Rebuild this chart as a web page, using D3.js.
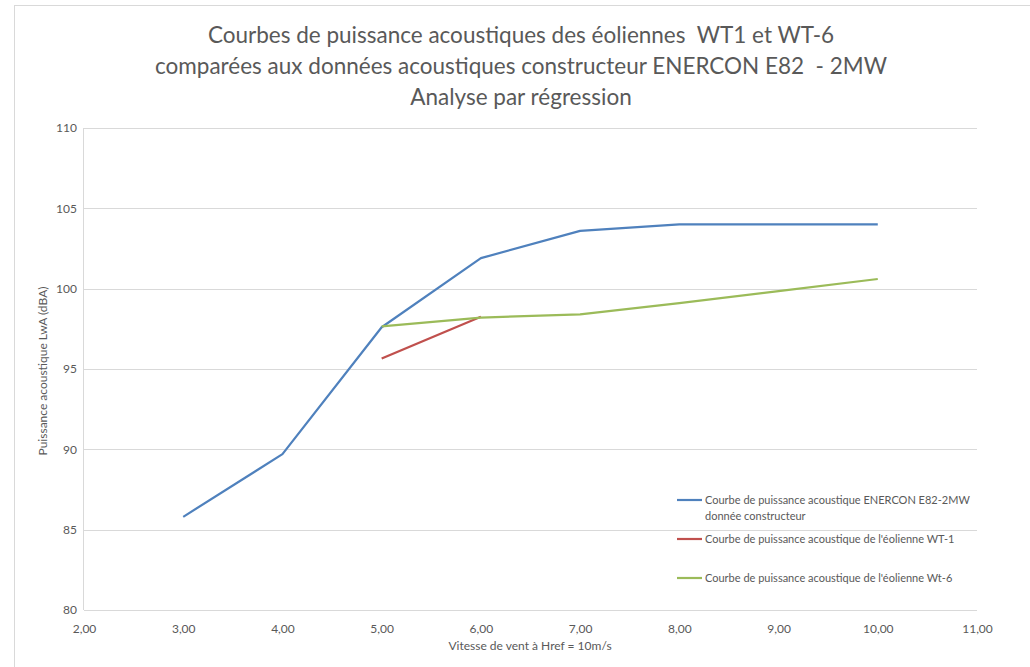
<!DOCTYPE html>
<html><head><meta charset="utf-8">
<script src="https://cdn.jsdelivr.net/npm/d3@7"></script>
<style>body{margin:0;background:#fff}svg{display:block}text{white-space:pre}</style>
</head><body>
<svg id="c" width="1030" height="667"></svg>
<script>
const titleLines = ["Courbes de puissance acoustiques des éoliennes  WT1 et WT-6",
  "comparées aux données acoustiques constructeur ENERCON E82  - 2MW",
  "Analyse par régression"];
const xTicks = [2,3,4,5,6,7,8,9,10,11];
const yTicks = [80,85,90,95,100,105,110];
const enerconX = [3,4,5,6,7,8,9,10];
const enerconY = [85.8,89.7,97.6,101.9,103.6,104.0,104.0,104.0];
const wt1X = [5,6];
const wt1Y = [95.65,98.25];
const wt6X = [5,6,7,8,9,10];
const wt6Y = [97.65,98.2,98.4,99.1,99.85,100.6];
const seriesNames = ["Courbe de puissance acoustique ENERCON E82-2MW|donnée constructeur",
  "Courbe de puissance acoustique de l'éolienne WT-1",
  "Courbe de puissance acoustique de l'éolienne Wt-6"];
const colors = ["#4F81BD","#C0504D","#9BBB59"];

const svg = d3.select("#c");
const font = "Lato, 'Open Sans', sans-serif";
svg.append("rect").attr("x",14.5).attr("y",5.5).attr("width",1030).attr("height",700)
  .attr("fill","#fff").attr("stroke","#d9d9d9");

const x = d3.scaleLinear().domain([2,11]).range([84,977]);
const y = d3.scaleLinear().domain([80,110]).range([610,128]);

// gridlines
svg.append("g").selectAll("line").data(yTicks).join("line")
  .attr("x1",x(2)).attr("x2",x(11)).attr("y1",d=>Math.round(y(d))+0.5).attr("y2",d=>Math.round(y(d))+0.5)
  .attr("stroke","#d9d9d9").attr("stroke-width",1);
svg.append("line").attr("x1",x(2)-0.5).attr("x2",x(2)-0.5).attr("y1",y(110)).attr("y2",y(80))
  .attr("stroke","#d9d9d9");

const xAxis = d3.axisBottom(x).tickValues(xTicks).tickSize(0).tickPadding(14)
  .tickFormat(d=>d3.format(".2f")(d).replace(".",","));
const gx = svg.append("g").attr("transform",`translate(0,${y(80)})`).call(xAxis);
gx.select(".domain").remove();
gx.selectAll("text").attr("fill","#595959").attr("font-size",12).attr("font-family",font);

const yAxis = d3.axisLeft(y).tickValues(yTicks).tickSize(0).tickPadding(7);
const gy = svg.append("g").attr("transform",`translate(${x(2)},0)`).call(yAxis);
gy.select(".domain").remove();
gy.selectAll("text").attr("fill","#595959").attr("font-size",12).attr("font-family",font);

const line = d3.line().x(d=>x(d[0])).y(d=>y(d[1]));
const series = [d3.zip(enerconX,enerconY), d3.zip(wt1X,wt1Y), d3.zip(wt6X,wt6Y)];
series.forEach((s,i)=>{
  svg.append("path").datum(s).attr("d",line).attr("fill","none")
    .attr("stroke",colors[i]).attr("stroke-width",2.2).attr("stroke-linejoin","round");
});

// titles
svg.append("g").selectAll("text").data(titleLines).join("text")
  .attr("x",521).attr("y",(d,i)=>43+i*31).attr("text-anchor","middle")
  .attr("font-size",22.5).attr("font-family",font).attr("fill","#595959").text(d=>d);

svg.append("text").attr("transform","translate(47,371) rotate(-90)").attr("text-anchor","middle")
  .attr("font-size",12).attr("font-family",font).attr("fill","#595959").text("Puissance acoustique LwA (dBA)");
svg.append("text").attr("x",530).attr("y",650).attr("text-anchor","middle")
  .attr("font-size",12).attr("font-family",font).attr("fill","#595959").text("Vitesse de vent à Href = 10m/s");

// legend
const legY = [500,539,578];
seriesNames.forEach((n,i)=>{
  const g = svg.append("g");
  g.append("line").attr("x1",677).attr("x2",702).attr("y1",legY[i]).attr("y2",legY[i])
    .attr("stroke",colors[i]).attr("stroke-width",2.2);
  const parts = n.split("|");
  parts.forEach((p,j)=>{
    g.append("text").attr("x",705).attr("y",legY[i]+4+j*16).attr("font-size",11)
      .attr("font-family",font).attr("fill","#595959").text(p);
  });
});
</script>
</body></html>
